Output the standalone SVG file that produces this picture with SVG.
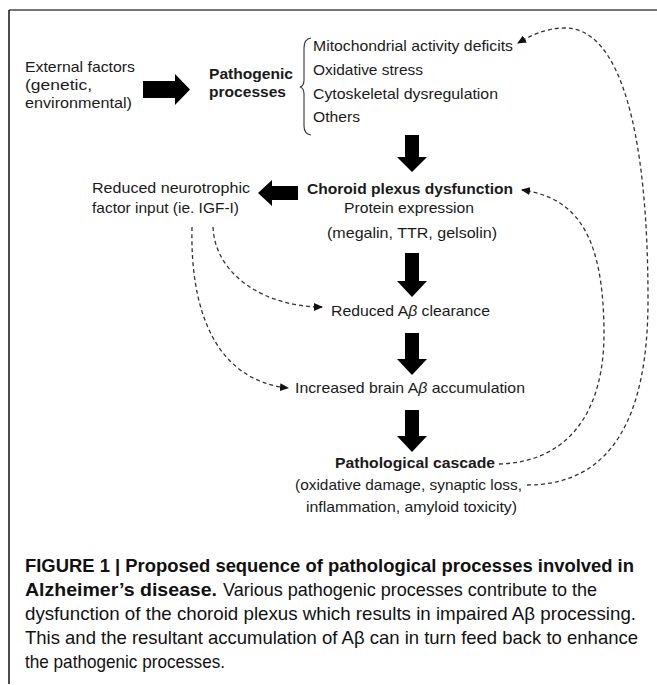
<svg xmlns="http://www.w3.org/2000/svg" width="657" height="685" viewBox="0 0 657 685">
<style>
.t{font-family:"Liberation Sans",Arial,sans-serif;font-size:15px;fill:#1a1a1a}
.b{font-weight:bold}
.cap{font-family:"Liberation Sans",Arial,sans-serif;font-size:18.5px;fill:#111}
.blk{fill:#000}
.dash{fill:none;stroke:#333;stroke-width:1.3;stroke-dasharray:4 3}
</style>
<defs>
<marker id="ah" markerWidth="9" markerHeight="8" refX="8" refY="4" orient="auto" markerUnits="userSpaceOnUse">
<path d="M0,0 L9,4 L0,8 Z" fill="#111"/>
</marker>
</defs>
<rect width="657" height="685" fill="#fff"/>
<line x1="9" y1="10" x2="657" y2="10" stroke="#777" stroke-width="2"/>
<line x1="9" y1="10" x2="9" y2="684" stroke="#111" stroke-width="1.5"/>

<g id="external">
<text class="t" x="25" y="72" textLength="110" lengthAdjust="spacingAndGlyphs">External factors</text>
<text class="t" x="25" y="90" textLength="67" lengthAdjust="spacingAndGlyphs">(genetic,</text>
<text class="t" x="25" y="108" textLength="107" lengthAdjust="spacingAndGlyphs">environmental)</text>
</g>
<g id="pathogenic">
<text class="t b" x="209" y="79" textLength="84" lengthAdjust="spacingAndGlyphs">Pathogenic</text>
<text class="t b" x="209" y="97" textLength="77" lengthAdjust="spacingAndGlyphs">processes</text>
</g>
<g id="process-list">
<path d="M311,38 Q304,39 304,48 L304,80 Q304,86 300,87 Q304,88 304,94 L304,126 Q304,134 311,135" fill="none" stroke="#333" stroke-width="1.1"/>
<text class="t" x="313" y="51" textLength="200" lengthAdjust="spacingAndGlyphs">Mitochondrial activity deficits</text>
<text class="t" x="313" y="75" textLength="110" lengthAdjust="spacingAndGlyphs">Oxidative stress</text>
<text class="t" x="313" y="99" textLength="185" lengthAdjust="spacingAndGlyphs">Cytoskeletal dysregulation</text>
<text class="t" x="313" y="122" textLength="47" lengthAdjust="spacingAndGlyphs">Others</text>
</g>
<g id="choroid">
<text class="t b" x="307" y="194" textLength="206" lengthAdjust="spacingAndGlyphs">Choroid plexus dysfunction</text>
<text class="t" x="344" y="213" textLength="130" lengthAdjust="spacingAndGlyphs">Protein expression</text>
<text class="t" x="327" y="238" textLength="170" lengthAdjust="spacingAndGlyphs">(megalin, TTR, gelsolin)</text>
</g>
<g id="neurotrophic">
<text class="t" x="92" y="193" textLength="158" lengthAdjust="spacingAndGlyphs">Reduced neurotrophic</text>
<text class="t" x="92" y="213" textLength="147" lengthAdjust="spacingAndGlyphs">factor input (ie. IGF-I)</text>
</g>
<g id="clearance">
<text class="t" x="331" y="316" textLength="159" lengthAdjust="spacingAndGlyphs">Reduced A<tspan font-style="italic">β</tspan> clearance</text>
</g>
<g id="accumulation">
<text class="t" x="295" y="393" textLength="230" lengthAdjust="spacingAndGlyphs">Increased brain A<tspan font-style="italic">β</tspan> accumulation</text>
</g>
<g id="cascade">
<text class="t b" x="335" y="468" textLength="160" lengthAdjust="spacingAndGlyphs">Pathological cascade</text>
<text class="t" x="295" y="490" textLength="227" lengthAdjust="spacingAndGlyphs">(oxidative damage, synaptic loss,</text>
<text class="t" x="306" y="512" textLength="211" lengthAdjust="spacingAndGlyphs">inflammation, amyloid toxicity)</text>
</g>

<g id="block-arrows">
<polygon class="blk" points="143,81 175,81 175,74 190,89.5 175,105 175,98 143,98"/>
<polygon class="blk" points="298,186 272,186 272,180 258,193 272,206 272,200 298,200"/>
<polygon class="blk" points="405,135 419,135 419,157 427,157 412,172 397,157 405,157"/>
<polygon class="blk" points="405,253 419,253 419,281 427,281 412,297 397,281 405,281"/>
<polygon class="blk" points="405,333 419,333 419,359 427,359 412,375 397,359 405,359"/>
<polygon class="blk" points="405,410 419,410 419,436 427,436 412,452 397,436 405,436"/>
</g>

<g id="connectors">
<path class="dash" d="M527,485 C610,485 648,420 648,300 C648,130 620,28 565,28 C545,28 530,36 518,43" marker-end="url(#ah)"/>
<path class="dash" d="M499,464 C570,462 605,410 604,330 C603,240 580,198 522,190" marker-end="url(#ah)"/>
<path class="dash" d="M213,227 C215,275 265,307 322,307" marker-end="url(#ah)"/>
<path class="dash" d="M192,227 C190,310 215,380 288,388" marker-end="url(#ah)"/>
</g>

<g id="caption">
<text class="cap b" x="25" y="572" textLength="609" lengthAdjust="spacingAndGlyphs">FIGURE 1 | Proposed sequence of pathological processes involved in</text>
<text class="cap b" x="25" y="596" textLength="192" lengthAdjust="spacingAndGlyphs">Alzheimer’s disease.</text>
<text class="cap" x="223" y="596" textLength="374" lengthAdjust="spacingAndGlyphs">Various pathogenic processes contribute to the</text>
<text class="cap" x="25" y="620" textLength="611" lengthAdjust="spacingAndGlyphs">dysfunction of the choroid plexus which results in impaired Aβ processing.</text>
<text class="cap" x="25" y="644" textLength="613" lengthAdjust="spacingAndGlyphs">This and the resultant accumulation of Aβ can in turn feed back to enhance</text>
<text class="cap" x="25" y="668" textLength="200" lengthAdjust="spacingAndGlyphs">the pathogenic processes.</text>
</g>
</svg>
